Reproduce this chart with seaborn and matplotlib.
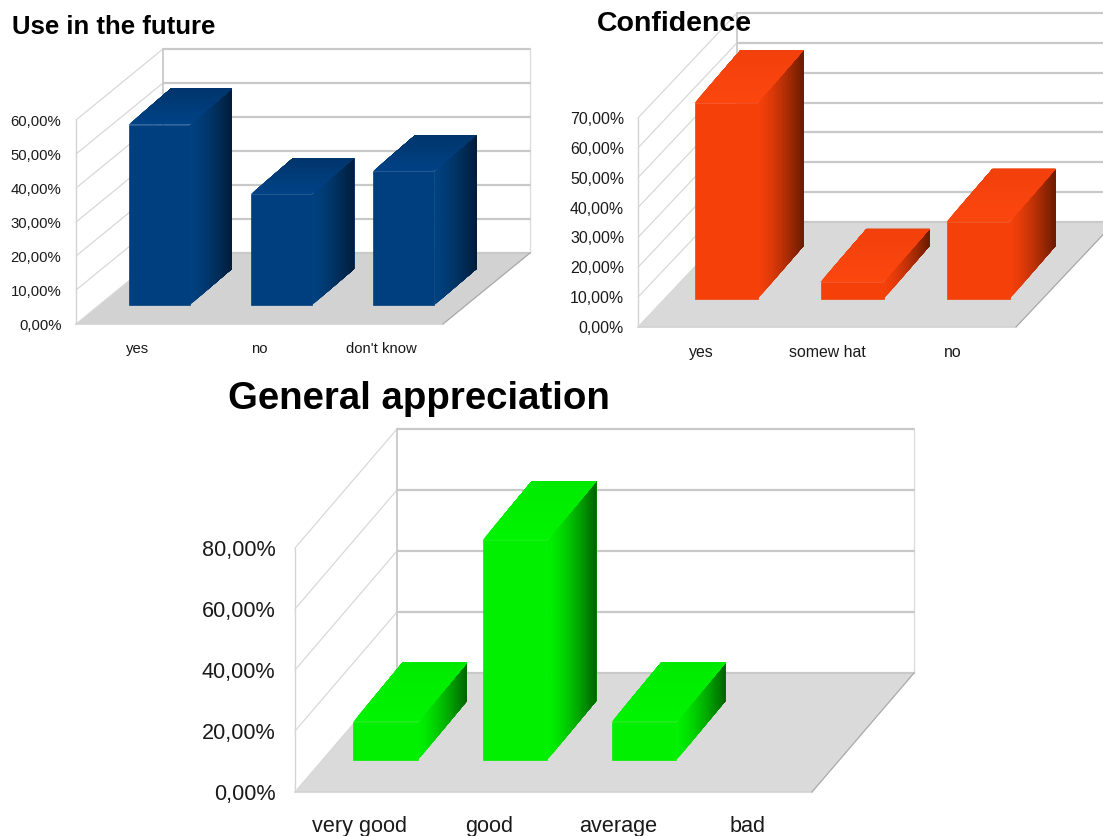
"""Three fake-3D survey bar charts (spreadsheet style) drawn with seaborn."""

import matplotlib
matplotlib.use("Agg")
import matplotlib.pyplot as plt
import numpy as np
import seaborn as sns
from matplotlib.colors import to_rgb
from matplotlib.lines import Line2D
from matplotlib.patches import Polygon
from matplotlib.transforms import Affine2D, IdentityTransform

WIDTH, HEIGHT = 1103, 836

future_labels = ["yes", "no", "don't know"]
future_values = [53.0, 32.6, 39.4]
future_ticks = [0, 10, 20, 30, 40, 50, 60]

confidence_labels = ["yes", "somew hat", "no"]
confidence_values = [65.6, 5.7, 25.8]
confidence_ticks = [0, 10, 20, 30, 40, 50, 60, 70]

general_labels = ["very good", "good", "average", "bad"]
general_values = [12.5, 72.0, 12.5, 0.0]
general_ticks = [0, 20, 40, 60, 80]

sns.set_theme(style="white")
plt.rcParams['font.family'] = ['Liberation Sans', 'DejaVu Sans']


def mix(c1, c2, t):
    return tuple((1 - t) * np.array(to_rgb(c1)) + t * np.array(to_rgb(c2)))


def add_poly(ax, pts, color, zorder):
    ax.add_patch(Polygon(pts, closed=True, facecolor=color, edgecolor="none", linewidth=0,
                         transform=IdentityTransform(), zorder=zorder, clip_on=False))


def add_line(ax, p0, p1, color="#c9c9c9", lw=1.3, zorder=1.2):
    ax.add_line(Line2D([p0[0], p1[0]], [p0[1], p1[1]], color=color, linewidth=lw,
                       transform=IdentityTransform(), zorder=zorder, clip_on=False))


def draw_chart(labels, values, ticks, box, depth, base, bar_depth, colors, floor, font, pads):
    """box is left, right, bottom, top of the front plane in picture pixels."""
    left, right, bottom, top = box
    ax = fig.add_axes([left / WIDTH, 1 - bottom / HEIGHT, (right - left) / WIDTH, (bottom - top) / HEIGHT])
    ax.patch.set_visible(False)
    sns.barplot(x=labels, y=values, color=colors[0], saturation=1, width=0.5, ax=ax)
    ax.set_xlim(-0.5, len(labels) - 0.5)
    ax.set_ylim(ticks[0], ticks[-1])
    sns.despine(ax=ax, left=True, bottom=True)
    ax.set_yticks(ticks)
    ax.set_yticklabels([f"{t},00%" for t in ticks])
    ax.tick_params(axis="y", length=0, pad=pads[0], labelsize=font, labelcolor="#1a1a1a")
    ax.tick_params(axis="x", length=0, pad=pads[1], labelsize=font, labelcolor="#1a1a1a")

    dx, dy = depth
    x0, y0 = ax.transData.transform((-0.5, ticks[0]))
    x1 = ax.transData.transform((len(labels) - 0.5, ticks[0]))[0]

    # floor and walls
    add_poly(ax, [(x0, y0), (x1, y0), (x1 + dx, y0 + dy), (x0 + dx, y0 + dy)], floor, 1.1)
    add_line(ax, (x0, y0), (x1, y0), color="#d2d2d2", lw=1.2, zorder=1.3)
    add_line(ax, (x1, y0), (x1 + dx, y0 + dy), color="#a8a8a8", lw=0.9, zorder=1.3)
    yt = ax.transData.transform((-0.5, ticks[-1]))[1]
    add_line(ax, (x0, y0), (x0, yt), color="#d4d4d4", lw=1.0)
    add_line(ax, (x0 + dx, y0 + dy), (x0 + dx, yt + dy), lw=1.3)
    add_line(ax, (x1 + dx, y0 + dy), (x1 + dx, yt + dy), color="#dedede", lw=1.0)
    for t in ticks:
        yp = ax.transData.transform((-0.5, t))[1]
        add_line(ax, (x0, yp), (x0 + dx, yp + dy), color="#d8d8d8", lw=0.9)
        add_line(ax, (x0 + dx, yp + dy), (x1 + dx, yp + dy), lw=1.6)

    # front faces from seaborn, moved back onto the floor, with side and top faces
    shift = Affine2D().translate(base[0], base[1])
    bx, by = bar_depth
    for patch in ax.patches:
        if not hasattr(patch, "get_width") or patch.get_height() <= 0:
            continue
        xa = patch.get_x()
        xb = xa + patch.get_width()
        h = patch.get_height()
        patch.set_transform(ax.transData + shift)
        patch.set_zorder(4)
        patch.set_clip_on(False)
        patch.set_edgecolor(colors[0])
        patch.set_linewidth(0.5)
        pb = ax.transData.transform((xb, 0)) + base
        pt = ax.transData.transform((xb, h)) + base
        pl = ax.transData.transform((xa, h)) + base
        n = 30
        # every strip runs to the far edge and the next one paints over it, so no seams
        for i in range(n):
            t0 = i / n
            side = [(pb[0] + bx * t0, pb[1] + by * t0), (pb[0] + bx, pb[1] + by),
                    (pt[0] + bx, pt[1] + by), (pt[0] + bx * t0, pt[1] + by * t0)]
            add_poly(ax, side, mix(colors[1], colors[2], t0 ** 1.4), 3)
            roof = [(pl[0] + bx * t0, pl[1] + by * t0), (pt[0] + bx * t0, pt[1] + by * t0),
                    (pt[0] + bx, pt[1] + by), (pl[0] + bx, pl[1] + by)]
            add_poly(ax, roof, mix(colors[3], colors[4], t0), 3.5)
    return ax


fig = plt.figure(figsize=(WIDTH / 100, HEIGHT / 100), dpi=100, facecolor="white")

draw_chart(future_labels, future_values, future_ticks,
           (76, 443, 324, 120), (87, 71), (22, 19), (42, 36),
           ["#003f7f", "#00417f", "#001c38", "#004286", "#00356b"], "#d2d2d2", 10.7, (10.5, 13))
draw_chart(confidence_labels, confidence_values, confidence_ticks,
           (638, 1016, 327, 118), (99, 105), (25, 28), (46, 53),
           ["#f5400a", "#f5400a", "#661a00", "#fc460e", "#f2400c"], "#d9d9d9", 11.4, (10, 13))
draw_chart(general_labels, general_values, general_ticks,
           (295, 812, 792, 548), (102, 119), (26, 32), (49, 59),
           ["#00f000", "#00f000", "#005f00", "#00f400", "#00ea00"], "#dadada", 15.6, (14, 17))

fig.text(12 / WIDTH, 1 - 27 / HEIGHT, "Use in the future", fontsize=18.5, fontweight="bold",
         color="black", va="center", ha="left")
fig.text(597 / WIDTH, 1 - 24 / HEIGHT, "Confidence", fontsize=20.5, fontweight="bold",
         color="black", va="center", ha="left", zorder=10)
fig.text(228 / WIDTH, 1 - 399 / HEIGHT, "General appreciation", fontsize=27.6, fontweight="bold",
         color="black", va="center", ha="left")

fig.savefig("out.png", dpi=100)
plt.close(fig)
